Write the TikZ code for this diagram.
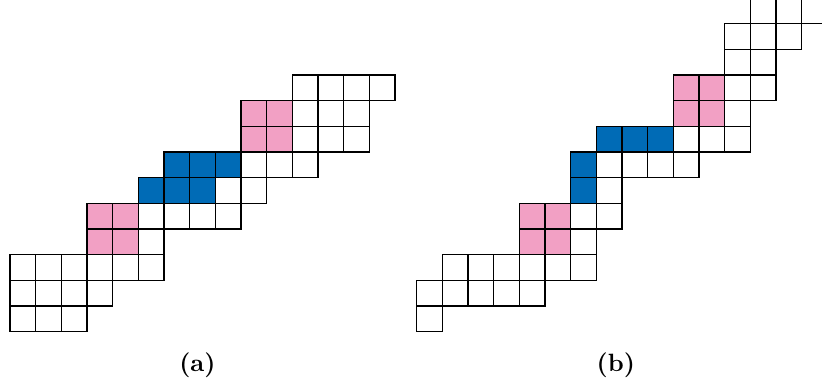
\documentclass[tikz,border=0pt]{standalone}
\usepackage{tikz}

\begin{document}
\begin{tikzpicture}[x=10.267pt,y=10.267pt,
	cell/.style={draw=black,line width=0.5pt,fill=white},
	pinkcell/.style={cell,fill={rgb,255:red,242;green,160;blue,196}},
	bluecell/.style={cell,fill={rgb,255:red,0;green,107;blue,182}},
	caption/.style={font=\bfseries,inner sep=0pt}]
				%set diagram size 822x385
				\useasboundingbox (0,0) rectangle (32.02,15);
				\clip (0,0) rectangle (32.02,15);
				
				%Grid (a)
				\begin{scope}[shift={(0.39,2.08)}]
				\foreach \r/\a/\b in {0/0/2,1/0/3,2/0/5,3/3/5,4/3/8,5/5/9,6/6/11,7/9/13,8/9/13,9/11/14}
				\foreach \c in {\a,...,\b}
				\draw [cell] (\c,\r) rectangle ++(1,1) ;
				%Pink blocks
				\foreach \c/\r in {3/3,4/3,3/4,4/4,9/7,10/7,9/8,10/8}
				\draw [pinkcell] (\c,\r) rectangle ++(1,1) ;
				%Blue block
				\foreach \c/\r in {5/5,6/5,7/5,6/6,7/6,8/6}
				\draw [bluecell] (\c,\r) rectangle ++(1,1) ;
				\end{scope}
				
				%Grid (b)
				\begin{scope}[shift={(16.23,2.08)}]
				\foreach \r/\a/\b in {0/0/0,1/0/4,2/1/6,3/4/6,4/4/7,5/6/7,6/6/10,7/7/12,8/10/12,9/10/13,10/12/13,11/12/14,12/13/15}
				\foreach \c in {\a,...,\b}
				\draw [cell] (\c,\r) rectangle ++(1,1) ;
				%Pink blocks
				\foreach \c/\r in {4/3,5/3,4/4,5/4,10/8,11/8,10/9,11/9}
				\draw [pinkcell] (\c,\r) rectangle ++(1,1) ;
				%Blue block
				\foreach \c/\r in {6/5,6/6,7/7,8/7,9/7}
				\draw [bluecell] (\c,\r) rectangle ++(1,1) ;
				\end{scope}
				
				%Captions
				\node [caption] (capa) at (7.69,0.78) {(a)};
				\node [caption] (capb) at (23.99,0.78) {(b)};
				
			\end{tikzpicture}
\end{document}
